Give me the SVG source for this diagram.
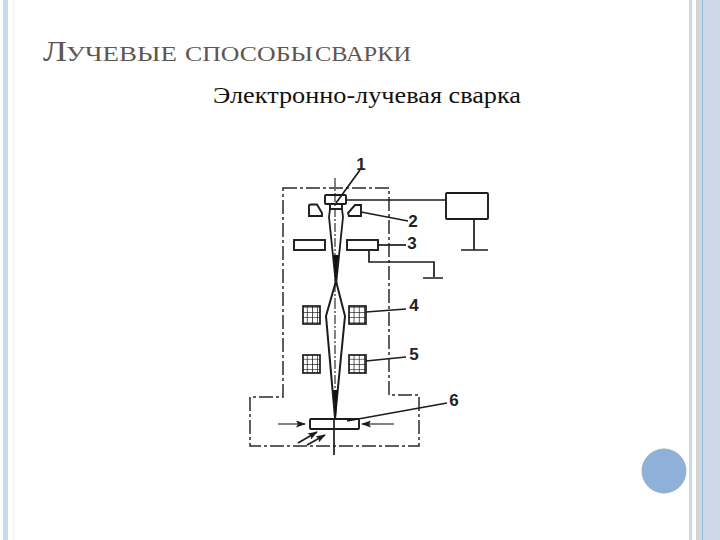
<svg xmlns="http://www.w3.org/2000/svg" width="720" height="540" viewBox="0 0 720 540">
<defs>
<marker id="ah" markerWidth="10" markerHeight="7" refX="9" refY="3.5" orient="auto" markerUnits="userSpaceOnUse"><path d="M0,0 L10,3.5 L0,7 L2,3.5 Z" fill="#1c1c1c"/></marker>
<pattern id="grid" width="5.2" height="5.2" patternUnits="userSpaceOnUse"><rect width="5.2" height="5.2" fill="#fff"/><path d="M0,0H5.2M0,0V5.2" stroke="#222" stroke-width="1.5" fill="none"/></pattern>
</defs>
<style>
.l{fill:none;stroke:#1c1c1c;stroke-width:1.7}
.t{fill:none;stroke:#1c1c1c;stroke-width:1.1}
.d{fill:none;stroke:#2a2a2a;stroke-width:1.5;stroke-dasharray:14 3 3 3}
.c{fill:#fff;stroke:#1c1c1c;stroke-width:1.9}
.g{fill:url(#grid);stroke:#1c1c1c;stroke-width:1.7}
.n{font-family:"Liberation Sans",sans-serif;font-size:17px;font-weight:bold;fill:#222;text-anchor:middle}
.h{font-family:"Liberation Serif",serif;fill:#5f5650}
</style>
<rect width="720" height="540" fill="#fff"/>
<g id="frame">
<rect x="3" y="0" width="5" height="540" fill="#c9dbe8"/>
<rect x="13" y="0" width="1" height="540" fill="#fbeee6"/>
<rect x="689" y="0" width="3" height="540" fill="#c6dae8"/>
<rect x="696" y="0" width="24" height="540" fill="#cdd8e8"/>
<rect x="696" y="0" width="3" height="540" fill="#d3d3d6"/>
<rect x="702" y="0" width="1" height="540" fill="#8fb8d6"/>
<circle cx="664" cy="471" r="22" fill="#8fb1d9" stroke="#9aaec4" stroke-width="1"/>
</g>
<g id="title">
<text class="h" x="43" y="61" font-size="29" textLength="24" lengthAdjust="spacingAndGlyphs">Л</text>
<text class="h" x="66" y="61" font-size="20" textLength="111" lengthAdjust="spacingAndGlyphs">УЧЕВЫЕ</text>
<text class="h" x="185" y="61" font-size="20" textLength="128" lengthAdjust="spacingAndGlyphs">СПОСОБЫ</text>
<text class="h" x="315" y="61" font-size="20" textLength="96" lengthAdjust="spacingAndGlyphs">СВАРКИ</text>
<text x="213" y="103" font-family="Liberation Serif, serif" font-size="23.500" fill="#111" textLength="308" lengthAdjust="spacingAndGlyphs">Электронно-лучевая сварка</text>
</g>
<g id="n1"><rect class="c" x="325" y="195" width="21" height="9" rx="1"/><rect class="c" x="330" y="204" width="12" height="5"/></g>
<g id="n2"><path class="c" d="M309,206Q309,204.500 311,204.500H317L322,213V216H309Z"/><path class="c" d="M349,216H361V205H355L348,213Z"/></g>
<g id="n3"><rect class="c" x="294" y="240" width="31" height="10"/><rect class="c" x="347" y="240" width="31" height="10"/></g>
<g id="n4"><rect class="g" x="303" y="306" width="17" height="18"/><rect class="g" x="349" y="306" width="17" height="18"/></g>
<g id="n5"><rect class="g" x="303" y="355" width="17" height="18"/><rect class="g" x="349" y="355" width="17" height="18"/></g>
<g id="n6"><rect class="c" x="310" y="419" width="49" height="10" rx="1"/></g>
<g id="n7"><rect class="c" x="446" y="193" width="42" height="26" rx="1"/></g>
<g id="connectors">
<path class="d" d="M283,188H389V395H419V446H250V397H283Z"/>
<path class="t" d="M335,178V300M335,300V420" stroke-dasharray="9 2 2 2"/>
<path class="l" d="M334,420V455"/>
<path class="l" d="M336,203L360,170"/>
<path class="l" d="M346,200H446"/>
<path class="l" d="M474,219V250M461,250H488"/>
<path class="l" d="M361,212L408,221"/>
<path class="l" d="M378,245H406"/>
<path class="l" d="M369,251V262H434V277M423,278H443"/>
<path class="l" d="M366,312L406,309"/>
<path class="l" d="M366,361L406,357"/>
<path class="l" d="M347,421L447,403"/>
<path class="t" d="M278,424H305" marker-end="url(#ah)"/>
<path class="t" d="M394,424H362" marker-end="url(#ah)"/>
<path class="l" d="M298,443L317,432" marker-end="url(#ah)"/>
<path class="l" d="M307,445L325,435" marker-end="url(#ah)"/>
<path d="M330,209L329,217L336,285L343,217L342,209" fill="none" stroke="#1c1c1c" stroke-width="1.8"/>
<path d="M333.500,255H338.500L336,283Z" fill="#111"/>
<path d="M336,281L326,316L335,418L345,316Z" fill="none" stroke="#1c1c1c" stroke-width="2"/>
<path d="M333,390H337.500L336,419Z" fill="#111"/>
</g>
<g id="labels">
<text class="n" x="361" y="170">1</text>
<text class="n" x="413" y="227">2</text>
<text class="n" x="412" y="249">3</text>
<text class="n" x="414" y="311">4</text>
<text class="n" x="414" y="360">5</text>
<text class="n" x="454" y="406">6</text>
</g>
</svg>
